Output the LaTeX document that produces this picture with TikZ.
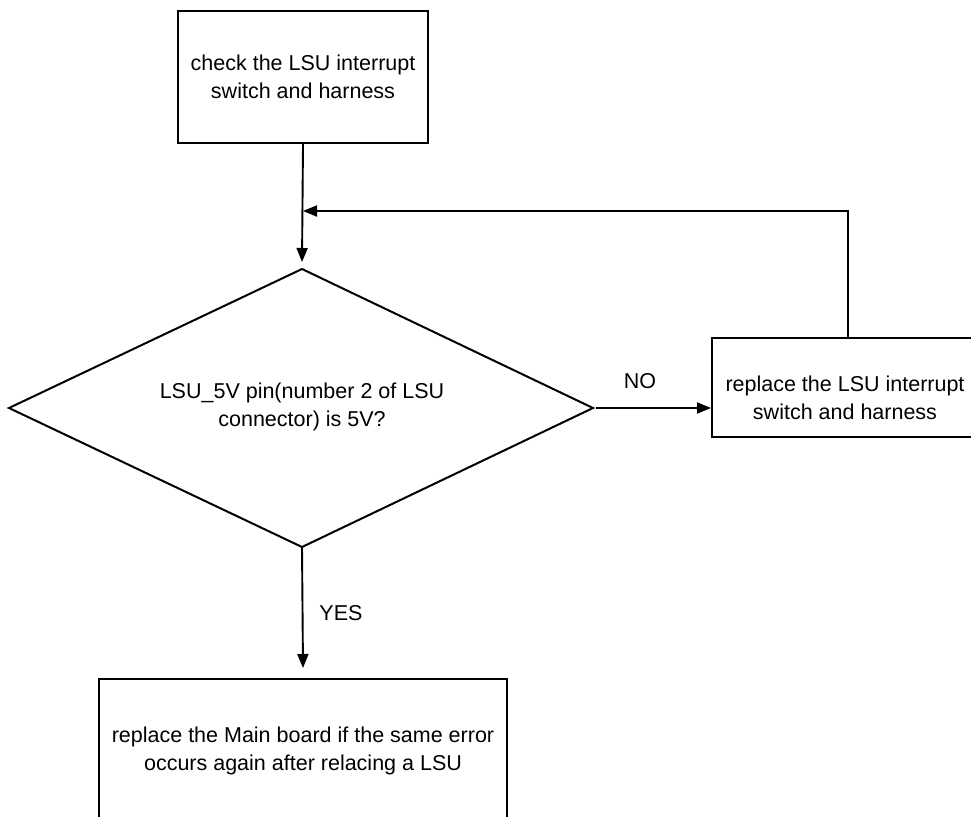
\documentclass[tikz,border=0pt]{standalone}
\usepackage{fontspec}
\setmainfont{Liberation Sans}
\usetikzlibrary{arrows.meta}
\begin{document}
\begin{tikzpicture}[x=1pt,y=-1pt,
  box/.style={draw, line width=2pt, font=\fontsize{21.5}{28}\selectfont, align=center, inner sep=0pt},
  lbl/.style={font=\fontsize{21.5}{28}\selectfont, align=center, inner sep=0pt},
  arr/.style={-{Triangle[length=14pt,width=11pt]}, line width=1.9pt}]
\useasboundingbox (0,0) rectangle (971,816);
\begin{scope}
\clip (0,0) rectangle (971,816);
\node[box, minimum width=250pt, minimum height=132pt] (top) at (303,77) {check the LSU interrupt\\switch and harness};
\coordinate (dT) at (302,269);
\coordinate (dR) at (593,408);
\coordinate (dB) at (302,547);
\coordinate (dL) at (9,408);
\draw[line width=2pt, line join=miter] (dT) -- (dR) -- (dB) -- (dL) -- cycle;
\node[lbl] (dtext) at (302,407) {LSU\_5V pin(number 2 of LSU\\connector) is 5V?};
\node[box, minimum width=266pt, minimum height=99pt] (rbox) at (845,387.5) {};
\node[lbl] (rtext) at (845,398) {replace the LSU interrupt\\switch and harness};
\node[box, minimum width=408pt, minimum height=144pt] (bbox) at (303,751) {replace the Main board if the same error\\occurs again after relacing a LSU};
\coordinate (j) at (303,211);
\draw[arr] (top.south) -- ([yshift=7pt]dT);
\draw[arr] ([xshift=3pt]rbox.north) |- (j);
\draw[arr] ([xshift=3pt]dR) -- (rbox.west |- dR);
\draw[arr] (dB) -- ([yshift=10pt]bbox.north);
\node[lbl] (no) at (640,381) {NO};
\node[lbl] (yes) at (341,613) {YES};
\end{scope}
\end{tikzpicture}
\end{document}
